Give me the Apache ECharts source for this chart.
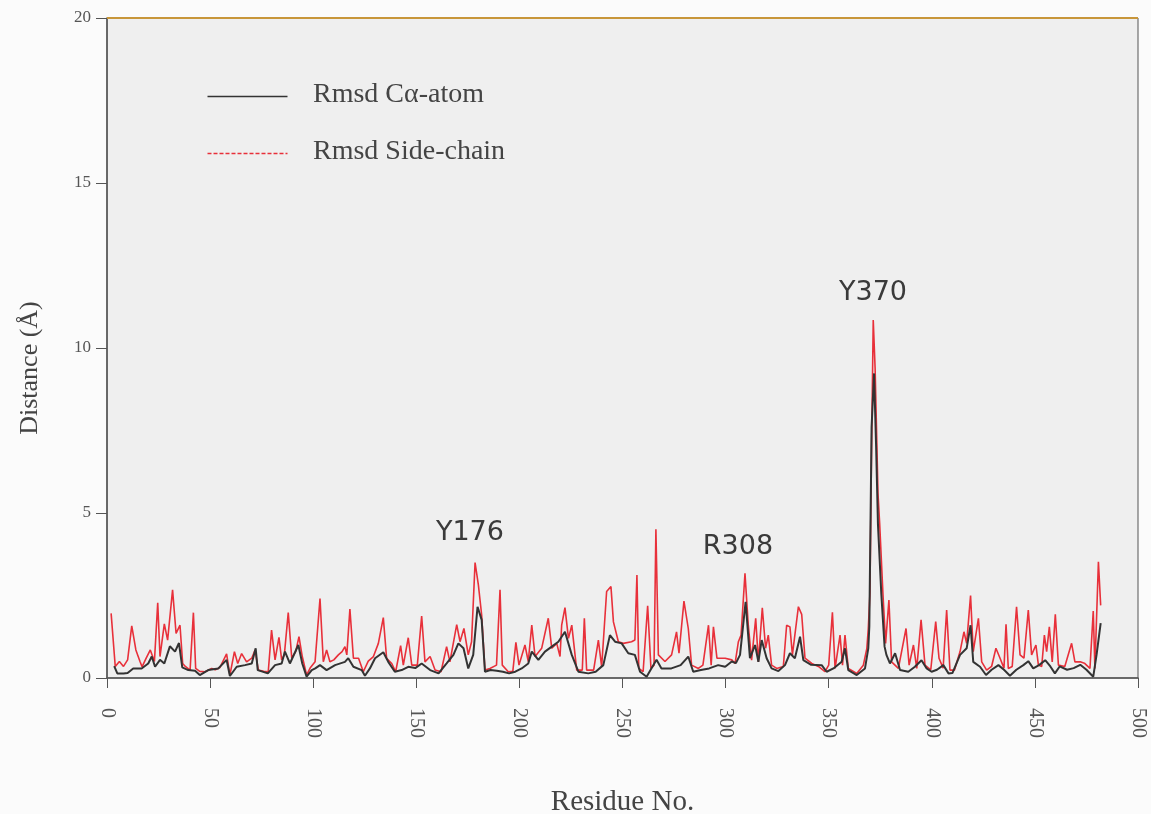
<!DOCTYPE html>
<html>
<head>
<meta charset="utf-8">
<script src="https://cdn.jsdelivr.net/npm/echarts@6/dist/echarts.min.js"></script>
<style>
html,body{margin:0;padding:0;background:#fbfbfb;}
#chart{width:1151px;height:814px;}
</style>
</head>
<body>
<div id="chart"></div>
<script>
// Rmsd Cα-atom (black)
const caResidue = [3.5,5,8,10,12.7,16.8,20,21.7,23.3,25.7,27.8,30.5,33,34.9,36.5,39.4,42.7,45,49.1,54,58,59.6,62.9,66.9,70.2,72.1,73.1,78,81.5,84.7,86.3,88.7,92.8,94.7,96.8,99.3,101,103.3,106.5,110.6,115.4,117,119.5,123.5,125.1,127.5,130,134,136.4,139.6,142.9,146.1,149.5,152.6,156.7,160.8,164.7,168,170.4,172.9,175.2,177.6,179.7,181.7,183.3,186,189,192,195,198,201.1,204.3,206,209.2,212.4,215.7,218.9,222.1,225.4,228.6,233.4,237,240.7,243.9,246.4,249.6,252.8,256,258.5,261.7,264,266.5,268.9,273.7,278.2,281.9,284.3,288,292,296.4,299.8,303,305,307,309.7,311.8,314.3,315.9,317.5,319.9,322.3,325.6,328.8,331.2,333.6,336.1,337.7,341.5,346.6,349,352.3,356.3,357.9,359.5,363.6,367.6,368.4,369.2,369.7,370.8,372,373,373.9,375.5,377.1,378,379.7,382.2,384.6,388.6,391.8,395,397.5,399.9,402.5,405.6,408.1,410,413.7,416.9,418.8,420.1,423.4,426.3,429,432.3,435,437.9,441,444.4,446.8,449.2,452,455,457.5,459.7,462,465.6,468.8,472,475,478.3,479.9,481.9];
const caValue = [0.36,0.14,0.14,0.15,0.29,0.29,0.44,0.65,0.34,0.55,0.44,0.96,0.8,1.06,0.32,0.24,0.22,0.09,0.24,0.29,0.55,0.06,0.34,0.39,0.44,0.9,0.24,0.14,0.39,0.44,0.8,0.44,1.0,0.44,0.04,0.24,0.29,0.39,0.24,0.39,0.49,0.6,0.34,0.24,0.07,0.29,0.6,0.78,0.49,0.19,0.24,0.34,0.3,0.44,0.24,0.14,0.44,0.7,1.05,0.9,0.29,0.7,2.16,1.76,0.19,0.24,0.22,0.19,0.14,0.19,0.29,0.44,0.8,0.55,0.8,0.95,1.1,1.4,0.7,0.19,0.14,0.19,0.39,1.3,1.1,1.05,0.75,0.7,0.19,0.04,0.29,0.55,0.29,0.29,0.39,0.65,0.19,0.24,0.29,0.39,0.34,0.5,0.45,0.7,2.31,0.6,1.0,0.49,1.15,0.6,0.29,0.21,0.39,0.75,0.6,1.25,0.54,0.4,0.39,0.19,0.29,0.49,0.9,0.24,0.09,0.29,0.29,0.9,1.56,7.6,9.23,7.0,4.64,2.56,0.95,0.7,0.44,0.75,0.24,0.19,0.34,0.54,0.29,0.19,0.25,0.39,0.14,0.15,0.7,0.9,1.6,0.49,0.34,0.09,0.25,0.39,0.25,0.07,0.25,0.39,0.51,0.29,0.39,0.54,0.35,0.14,0.35,0.25,0.3,0.4,0.25,0.04,0.7,1.66];

// Rmsd Side-chain (red)
const scResidue = [2,4,6,8,10,12,14,16,17,19,21,23,24.6,25.7,27.8,29.4,31.8,33.5,35.4,36.7,38,40.3,41.9,43,45,47.5,50.8,52.5,54.8,58,59.6,61.8,63.4,65.3,67.7,70.2,71.8,73.4,76,78.2,79.8,81.5,83.4,84.7,86,87.9,89.6,91.5,93.1,94.7,96.8,98.5,100.9,103.3,104.9,106.5,108.1,110,112.2,114,115.4,116.3,117.8,119.5,122,124.3,126.7,129.2,131.6,134,135.6,138.1,140,142.4,143.7,146.1,147.8,150.5,152.6,154.2,156.7,159.1,162,164.7,166.3,169.6,171.2,173.1,175.2,176.8,178.5,180.1,181.7,183.3,185.7,188.9,190.6,191.7,194.6,196.8,198.3,199.8,202.7,204.3,206,207.6,210.8,214,215.7,218.1,219.7,220.5,222.1,223.8,225.4,227.8,230.5,231.5,232.6,236,238.3,239.9,242.3,244.4,245.6,248,250.4,254.4,256,257,257.9,260,262.2,263.8,265.3,266.2,267.4,270.6,273.8,276.2,277.4,279.8,281.9,283.5,286.8,289,291.7,293,294.1,295.8,299.8,303,304.6,306.2,307.5,309.4,311,312.6,314.6,315.9,317.8,319.4,320.7,322.3,324.8,328,329.6,331.2,332.4,335.3,336.9,338.5,341.8,345,348.2,350,351.8,353.1,355.5,356.7,357.9,359.5,363.6,366.8,368.5,369.2,370,370.8,371.6,372.5,373.2,373.9,374.7,376.3,377.6,379.2,380.5,383.8,387.5,389,391.1,392.7,394.8,396.7,399.5,401.9,403.5,405.5,407.2,408.8,411,413.7,415.6,416.9,418.8,420.1,422.6,424.2,426.6,429,431.1,433.1,435,436,437.1,439,441.1,442.8,444.7,446.8,448.4,450.5,451.7,453.3,454.6,455.7,457,458.4,459.9,461.4,464.5,467.8,469.4,472,474,476.7,478.3,479.1,480.8,481.9];
const scValue = [1.96,0.35,0.5,0.35,0.55,1.58,0.85,0.5,0.34,0.6,0.85,0.5,2.28,0.65,1.64,1.15,2.67,1.35,1.6,0.44,0.35,0.24,1.98,0.29,0.2,0.19,0.29,0.25,0.32,0.73,0.09,0.8,0.44,0.74,0.49,0.6,0.85,0.24,0.2,0.19,1.45,0.55,1.23,0.55,0.7,1.98,0.6,0.8,1.25,0.65,0.09,0.3,0.49,2.41,0.49,0.85,0.49,0.55,0.7,0.8,0.95,0.7,2.09,0.6,0.6,0.19,0.51,0.65,1.05,1.83,0.6,0.44,0.19,0.98,0.39,1.22,0.39,0.39,1.88,0.49,0.65,0.24,0.19,0.95,0.49,1.62,1.1,1.5,0.7,1.1,3.5,2.82,1.91,0.24,0.29,0.39,2.67,0.39,0.19,0.2,1.08,0.39,1.0,0.5,1.6,0.65,0.9,1.81,0.9,1.05,0.65,1.6,2.13,1.2,1.6,0.24,0.24,1.81,0.24,0.24,1.15,0.34,2.62,2.77,1.7,1.1,1.05,1.1,1.15,3.12,0.29,0.19,2.19,0.29,0.39,4.51,0.7,0.5,0.7,1.4,0.75,2.33,1.5,0.39,0.29,0.39,1.6,0.39,1.55,0.6,0.6,0.55,0.44,1.1,1.3,3.17,1.6,0.54,1.81,0.49,2.13,0.9,1.3,0.39,0.29,0.35,1.6,1.55,0.7,2.16,1.93,0.6,0.44,0.35,0.19,0.39,1.99,0.29,1.3,0.39,1.3,0.29,0.14,0.39,0.9,1.5,2.56,7.0,10.85,9.4,7.5,5.6,4.7,2.56,1.05,2.36,0.49,0.29,1.5,0.39,1.0,0.29,1.76,0.39,0.25,1.71,0.6,0.3,2.06,0.24,0.24,0.8,1.4,1.05,2.5,0.8,1.81,0.49,0.24,0.35,0.9,0.6,0.3,1.63,0.29,0.35,2.16,0.7,0.6,2.06,0.7,1.0,0.39,0.35,1.3,0.8,1.55,0.49,1.93,0.39,0.35,1.05,0.49,0.49,0.45,0.29,2.03,0.29,3.52,2.2];

// Peak annotations
const peakLabels = ['Y176','R308','Y370'];
const peakResidue = [176,306,371.5];
const peakValue = [4.4,3.97,11.67];

const seriesNames = ['Rmsd Cα-atom','Rmsd Side-chain'];
const yTicks = [0,5,10,15,20];
const xTicks = [0,50,100,150,200,250,300,350,400,450,500];

const serif = '"Liberation Serif","DejaVu Serif",serif';
const RED = '#e8303a';
const BLACK = '#333333';
const chart = echarts.init(document.getElementById('chart'));

const zip = (xs, ys) => xs.map((x, i) => [x, ys[i]]);

chart.setOption({
  backgroundColor: '#fbfbfb',
  animation: false,
  grid: {
    left: 107, right: 13, top: 18, bottom: 136,
    outerBoundsMode: 'none', containLabel: false,
    show: true, backgroundColor: '#efefef', borderColor: '#555', borderWidth: 1
  },
  graphic: [
    {type: 'line', left: 205, top: 94, shape: {x1: 0, y1: 0, x2: 80, y2: 0}, style: {stroke: BLACK, lineWidth: 1.6}},
    {type: 'text', left: 313, top: 81, style: {text: seriesNames[0], font: '28px ' + serif, fill: '#444'}},
    {type: 'line', left: 205, top: 151, shape: {x1: 0, y1: 0, x2: 80, y2: 0}, style: {stroke: RED, lineWidth: 1.4, lineDash: [4, 2]}},
    {type: 'text', left: 313, top: 138, style: {text: seriesNames[1], font: '28px ' + serif, fill: '#444'}}
  ],
  xAxis: {
    type: 'value', min: 0, max: 500, interval: 50,
    name: 'Residue No.', nameLocation: 'middle', nameGap: 110,
    nameTextStyle: {fontFamily: serif, fontSize: 29, color: '#444'},
    axisLine: {show: true, lineStyle: {color: '#555', width: 1.5}},
    axisTick: {show: true, inside: false, length: 10, lineStyle: {color: '#555'}},
    axisLabel: {rotate: -90, fontFamily: serif, fontSize: 20, color: '#555', margin: 30,
      formatter: v => xTicks.includes(v) ? String(v) : ''},
    splitLine: {show: false}
  },
  yAxis: {
    type: 'value', min: 0, max: 20, interval: 5,
    name: 'Distance (Å)', nameLocation: 'middle', nameGap: 64, nameRotate: 90,
    nameTextStyle: {fontFamily: serif, fontSize: 26, color: '#444', padding: [0,0,0,-40]},
    axisLine: {show: true, lineStyle: {color: '#555', width: 1.5}},
    axisTick: {show: true, inside: false, length: 11, lineStyle: {color: '#555'}},
    axisLabel: {fontFamily: serif, fontSize: 17, color: '#555', margin: 16,
      formatter: v => yTicks.includes(v) ? String(v) : ''},
    splitLine: {show: false}
  },
  series: [
    {
      name: seriesNames[1], type: 'line', data: zip(scResidue, scValue),
      showSymbol: false, symbol: 'none', z: 2,
      lineStyle: {color: RED, width: 1.6},
      itemStyle: {color: RED},
      markLine: {
        silent: true, symbol: 'none', label: {show: false},
        lineStyle: {color: '#c8963a', width: 2, type: 'solid'},
        data: [{yAxis: 20}]
      }
    },
    {
      name: seriesNames[0], type: 'line', data: zip(caResidue, caValue),
      showSymbol: false, symbol: 'none', z: 3,
      lineStyle: {color: BLACK, width: 2},
      itemStyle: {color: BLACK},
      markPoint: {
        symbol: 'circle', symbolSize: 0,
        label: {show: true, position: 'inside', fontFamily: '"DejaVu Sans",sans-serif', fontSize: 27, color: '#3a3a3a',
          formatter: p => p.name},
        data: peakLabels.map((n, i) => ({name: n, coord: [peakResidue[i], peakValue[i]], value: n}))
      }
    }
  ]
});
</script>
</body>
</html>
